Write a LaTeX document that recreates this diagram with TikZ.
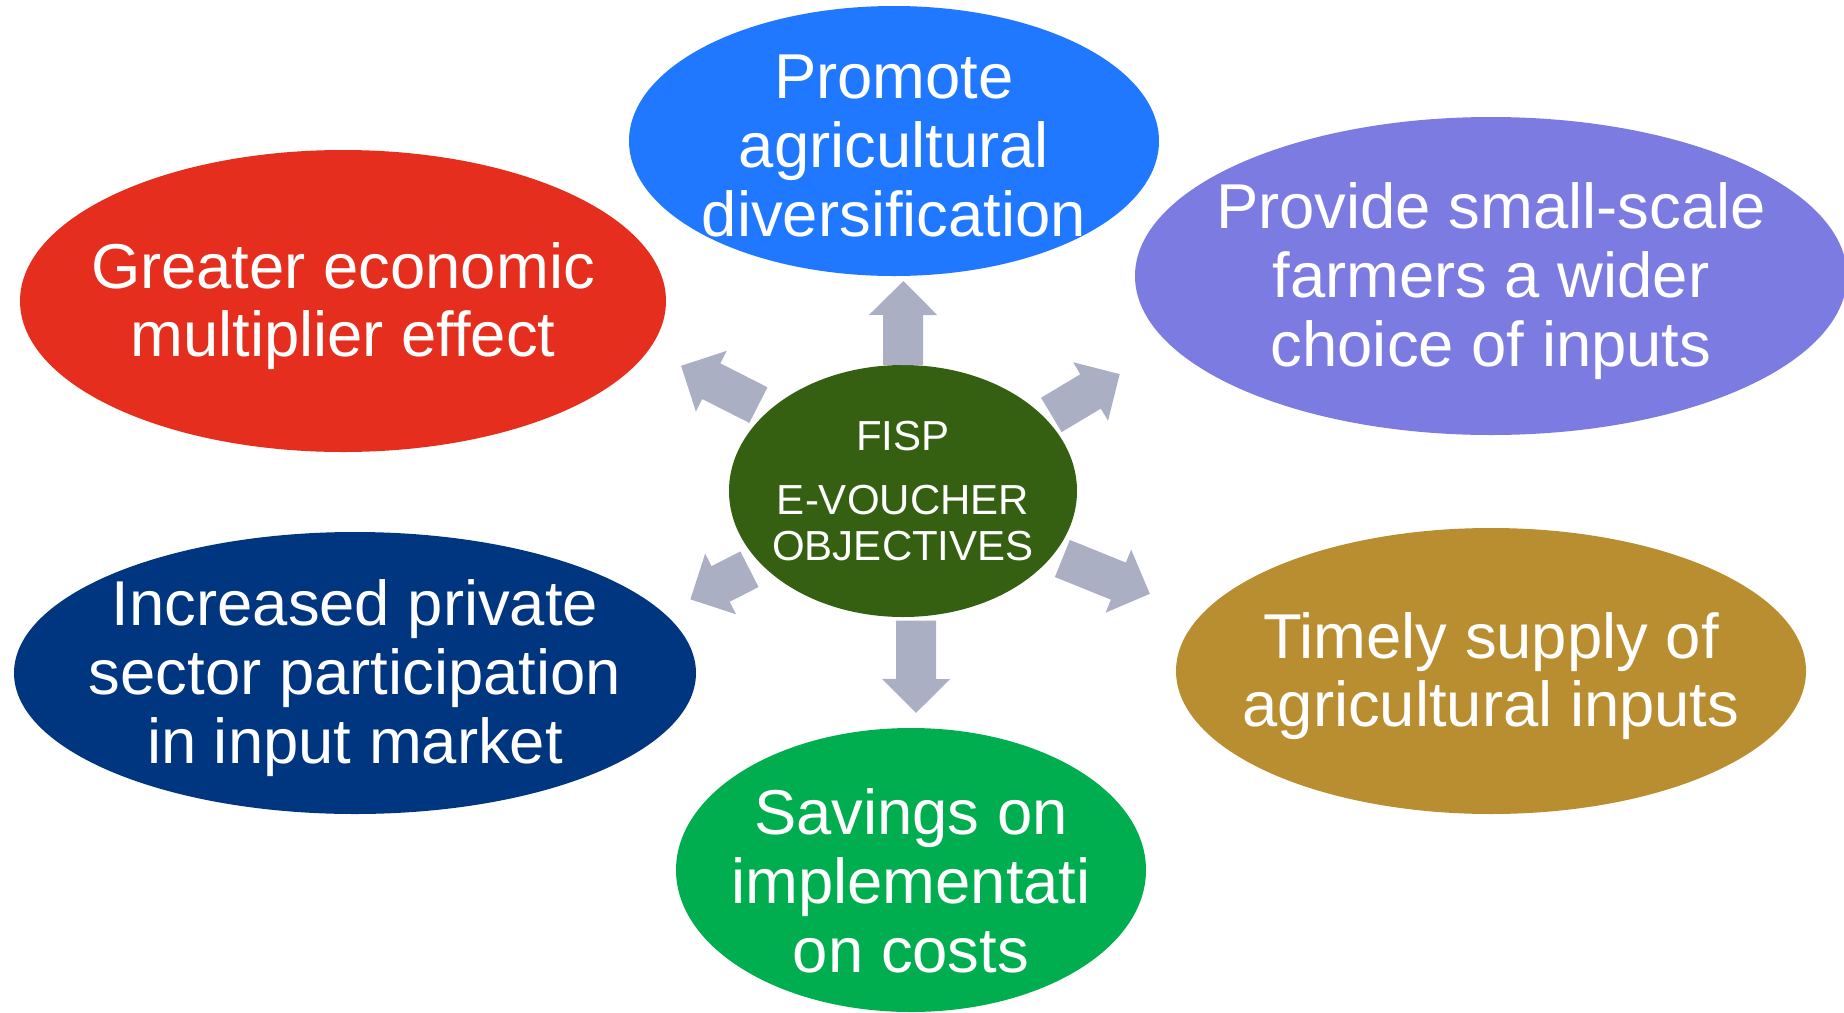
\documentclass[tikz,border=0pt]{standalone}
\usepackage{fontspec}
\setmainfont{Liberation Sans}
\usetikzlibrary{arrows.meta,shapes.geometric}

\definecolor{hubgreen}{HTML}{356012}
\definecolor{promoteblue}{HTML}{1F78FF}
\definecolor{greaterred}{HTML}{E52E1D}
\definecolor{providepurple}{HTML}{7B7BE2}
\definecolor{increasednavy}{HTML}{003580}
\definecolor{timelygold}{HTML}{B98E30}
\definecolor{savingsgreen}{HTML}{00AE4F}
\definecolor{spokegray}{HTML}{ABAFC4}

\begin{document}
\begin{tikzpicture}[
    x=0.5pt, y=-0.5pt,
    goal/.style   ={ellipse, inner sep=0pt, outer sep=0pt},
    goaltxt/.style={text=white, align=center, yshift=-2.5pt,
                    font=\fontsize{31.7}{34.4}\selectfont},
    hubtxt/.style ={text=white, align=center,
                    font=\fontsize{21}{22.7}\selectfont},
    spoke/.style  ={-{Triangle[length=17pt, width=33pt]},
                    line width=20pt, draw=spokegray},
]
\useasboundingbox (0,0) rectangle (1844,1013);

% =========================================================
% Centre: objectives hub
% =========================================================
\node[goal, fill=hubgreen, minimum width=174pt, minimum height=126pt]
    (hub) at (903,491) {};
\node[hubtxt] (hubtxt) at (hub) {FISP\\[9.3pt]E-VOUCHER\\OBJECTIVES};

% =========================================================
% Ring of objectives
% =========================================================
\node[goal, fill=promoteblue, minimum width=265pt, minimum height=135pt]
    (promote) at (894,141) {};
\node[goal, fill=greaterred, minimum width=323pt, minimum height=151pt]
    (greater) at (343,301) {};
\node[goal, fill=providepurple, minimum width=356pt, minimum height=159pt]
    (provide) at (1491,276) {};
\node[goal, fill=increasednavy, minimum width=341pt, minimum height=141pt]
    (increased) at (355,673) {};
\node[goal, fill=timelygold, minimum width=315pt, minimum height=143pt]
    (timely) at (1491,671) {};
\node[goal, fill=savingsgreen, minimum width=235pt, minimum height=142pt]
    (savings) at (911,870) {};

\node[goaltxt] (promotetxt)   at (promote)   {Promote\\agricultural\\diversification};
\node[goaltxt] (greatertxt)   at (greater)   {Greater economic\\multiplier effect};
\node[goaltxt] (providetxt)   at (provide)   {Provide small-scale\\farmers a wider\\choice of inputs};
\node[goaltxt] (increasedtxt) at (increased) {Increased private\\sector participation\\in input market};
\node[goaltxt] (timelytxt)    at (timely)    {Timely supply of\\agricultural inputs};
\node[goaltxt] (savingstxt)   at ([yshift=-3pt]savings.center) {Savings on\\implementati\\on costs};

% =========================================================
% Spokes: hub -> objectives
% =========================================================
\draw[spoke, shorten >=2.5pt] (hub.90) -- (promote.-86.2);
\draw[spoke, shorten <=2pt, shorten >=7.5pt] (hub.-84.1) -- (savings.88);
\draw[spoke, shorten <=6pt, shorten >=18pt] (hub.149.4) -- (greater.-9.5);
\draw[spoke, shorten <=3.5pt, shorten >=29pt] (hub.27.9) -- (provide.192.3);
\draw[spoke, shorten <=6.3pt, shorten >=15pt] (hub.207.5) -- (increased.11.2);
\draw[spoke, shorten <=5pt, shorten >=27.8pt] (hub.-23.1) -- (timely.169.7);

\end{tikzpicture}
\end{document}
